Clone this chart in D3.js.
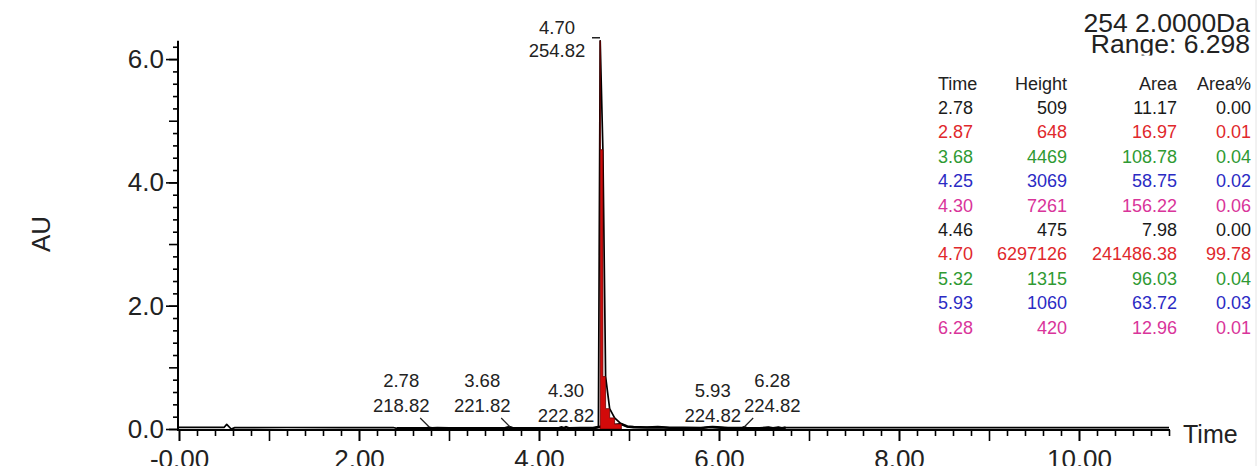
<!DOCTYPE html>
<html>
<head>
<meta charset="utf-8">
<script src="https://cdn.jsdelivr.net/npm/d3@7/dist/d3.min.js"></script>
<style>
  body { margin: 0; background: #fff; }
  svg { display: block; font-family: 'Liberation Sans', Arial, sans-serif; }
</style>
</head>
<body>
<div id="chart"></div>
<script>
// chromatogram trace (min, AU)
var traceTime = [0.00, 0.50, 0.53, 0.58, 0.62, 1.20, 1.80, 2.38, 2.42, 2.60, 2.75, 2.78, 2.81, 2.87, 3.00,
  3.20, 3.40, 3.62, 3.65, 3.68, 3.71, 3.90, 4.10, 4.22, 4.25, 4.28, 4.30, 4.33, 4.46, 4.60, 4.66,
  4.68, 4.71, 4.74, 4.785, 4.84, 4.915, 4.98, 5.05, 5.20, 5.32, 5.45, 5.60, 5.80, 5.88, 5.93, 5.98,
  6.10, 6.25, 6.28, 6.31, 6.45, 6.55, 6.60, 6.66, 6.70, 6.74, 7.50, 8.50, 9.50, 10.50, 11.00];
var traceAU = [0.025, 0.025, 0.075, 0.0, 0.022, 0.024, 0.022, 0.024, 0.010, 0.012, 0.010, 0.018, 0.010, 0.016, 0.010,
  0.012, 0.010, 0.012, 0.022, 0.026, 0.012, 0.010, 0.012, 0.012, 0.025, 0.014, 0.028, 0.012, 0.016, 0.014, 0.030,
  6.297, 4.53, 0.85, 0.33, 0.18, 0.08, 0.04, 0.030, 0.025, 0.030, 0.020, 0.018, 0.016, 0.028, 0.030, 0.026,
  0.014, 0.014, 0.026, 0.012, 0.012, 0.022, 0.012, 0.024, 0.012, 0.022, 0.022, 0.021, 0.022, 0.021, 0.021];

// integrated main peak window
var integStart = 4.68, integEnd = 4.915;

// labelled peaks
var peakTime = [2.78, 3.68, 4.30, 4.70, 5.93, 6.28];
var peakMass = ['218.82', '221.82', '222.82', '254.82', '224.82', '224.82'];

// peak table
var tableTime = ['2.78', '2.87', '3.68', '4.25', '4.30', '4.46', '4.70', '5.32', '5.93', '6.28'];
var tableHeight = ['509', '648', '4469', '3069', '7261', '475', '6297126', '1315', '1060', '420'];
var tableArea = ['11.17', '16.97', '108.78', '58.75', '156.22', '7.98', '241486.38', '96.03', '63.72', '12.96'];
var tableAreaPct = ['0.00', '0.01', '0.04', '0.02', '0.06', '0.00', '99.78', '0.04', '0.03', '0.01'];

var xTickValues = [0, 2, 4, 6, 8, 10];
var xTickLabels = ['-0.00', '2.00', '4.00', '6.00', '8.00', '10.00'];
var yTickValues = [0, 2, 4, 6];
var yTickLabels = ['0.0', '2.0', '4.0', '6.0'];

var titleLines = ['254 2.0000Da', 'Range: 6.298'];

var width = 1260, height = 466;
var rowColors = ['#1a1a1a', '#e0282c', '#2f9a33', '#2b2bc4', '#d9349a'];

var svg = d3.select('#chart').append('svg')
  .attr('width', width)
  .attr('height', height);

svg.append('rect').attr('width', width).attr('height', height).attr('fill', '#fff');

var x = d3.scaleLinear().domain([0, 11]).range([179, 1169]);
var y = d3.scaleLinear().domain([0, 6.298]).range([429, 40.7]);

var points = traceTime.map(function(t, i) { return { t: t, v: traceAU[i] }; });

// trace line
var line = d3.line()
  .x(function(d) { return x(d.t); })
  .y(function(d) { return y(d.v); });

svg.append('path')
  .datum(points)
  .attr('d', line)
  .attr('fill', 'none')
  .attr('stroke', '#000')
  .attr('stroke-width', 1.7)
  .attr('stroke-linejoin', 'round');

// noisier stretch around the peaks reads as a heavier line
svg.append('path')
  .datum(points.filter(function(d) { return d.t >= 2.42 && d.t <= 6.74 && d.v < 0.1; }))
  .attr('d', line)
  .attr('fill', 'none')
  .attr('stroke', '#000')
  .attr('stroke-width', 2.6);

// integrated area (stepped, as the data system draws it)
var area = d3.area()
  .curve(d3.curveStepBefore)
  .x(function(d) { return x(d.t); })
  .y0(y(0))
  .y1(function(d) { return y(d.v); });

svg.append('path')
  .datum(points.filter(function(d) { return d.t >= integStart && d.t <= integEnd; }))
  .attr('d', area)
  .attr('fill', '#d20a0a')
  .attr('stroke', '#6a0000')
  .attr('stroke-width', 0.8);

// x axis
var minorX = d3.range(0, 55.5).map(function(i) { return i * 0.2; });
var xMinor = svg.append('g')
  .attr('transform', 'translate(0,430)')
  .call(d3.axisBottom(x).tickValues(minorX).tickSize(6).tickSizeOuter(0).tickFormat(''));
xMinor.select('.domain').attr('stroke-width', 2).attr('d', 'M178,0H1170');
xMinor.selectAll('.tick line')
  .attr('stroke-width', 1.6)
  .attr('y2', function(d) { return Math.abs(d - Math.round(d)) < 1e-6 && d < 10.9 ? 11 : 6; });

var xMajor = svg.append('g')
  .attr('transform', 'translate(0,430)')
  .call(d3.axisBottom(x).tickValues(xTickValues).tickSize(11).tickPadding(9)
    .tickFormat(function(d, i) { return xTickLabels[i]; }));
xMajor.select('.domain').remove();
xMajor.selectAll('.tick line').attr('stroke-width', 1.6);
xMajor.selectAll('text').attr('font-size', 26).attr('fill', '#222').attr('font-family', null);

svg.append('text')
  .attr('x', 1183)
  .attr('y', 443)
  .attr('font-size', 25)
  .attr('fill', '#222')
  .text('Time');

// y axis
var minorY = d3.range(0, 31.5).map(function(i) { return i * 0.2; });
var yMinor = svg.append('g')
  .attr('transform', 'translate(178,0)')
  .call(d3.axisLeft(y).tickValues(minorY).tickSize(5).tickSizeOuter(0).tickFormat(''));
yMinor.select('.domain').attr('stroke-width', 2).attr('d', 'M0,431V40.7');
yMinor.selectAll('.tick line')
  .attr('stroke-width', 1.6)
  .attr('x2', function(d) { return Math.abs(d - Math.round(d)) < 1e-6 ? -9 : -5; });

var yMajor = svg.append('g')
  .attr('transform', 'translate(178,0)')
  .call(d3.axisLeft(y).tickValues(yTickValues).tickSize(12).tickPadding(2)
    .tickFormat(function(d, i) { return yTickLabels[i]; }));
yMajor.select('.domain').remove();
yMajor.selectAll('.tick line').attr('stroke-width', 1.6);
yMajor.selectAll('text').attr('font-size', 26).attr('fill', '#222').attr('font-family', null);

svg.append('text')
  .attr('transform', 'translate(50,234) rotate(-90)')
  .attr('text-anchor', 'middle')
  .attr('font-size', 26)
  .attr('fill', '#222')
  .text('AU');

// peak labels
var labelSide = [-1, -1, 0, 0, 0, 1];
var apex = d3.max(traceAU);
peakTime.forEach(function(t, i) {
  var px = x(t);
  var g = svg.append('g').attr('font-size', 18.5).attr('fill', '#222').attr('text-anchor', 'middle');
  if (t === 4.70) {
    var top = y(apex);
    g.append('text').attr('x', px - 45).attr('y', top - 7).text(t.toFixed(2));
    g.append('text').attr('x', px - 45).attr('y', top + 16).text(peakMass[i]);
    svg.append('line')
      .attr('x1', px - 10).attr('x2', px - 2)
      .attr('y1', top - 3).attr('y2', top - 3)
      .attr('stroke', '#222').attr('stroke-width', 1.5);
    return;
  }
  var s = labelSide[i];
  var lx = px + s * 28;
  var base = s === 0 ? 397 : 387;
  g.append('text').attr('x', lx).attr('y', base).text(t.toFixed(2));
  g.append('text').attr('x', lx).attr('y', base + 25).text(peakMass[i]);
  if (s !== 0) {
    svg.append('line')
      .attr('x1', px + s * 9).attr('y1', 418)
      .attr('x2', px).attr('y2', 427)
      .attr('stroke', '#222').attr('stroke-width', 1.2);
  }
});

// title (second line is clipped at its baseline, as in the original)
svg.append('clipPath').attr('id', 'titleClip')
  .append('rect').attr('x', 900).attr('y', 0).attr('width', 360).attr('height', 55.5);

svg.append('g')
  .attr('clip-path', 'url(#titleClip)')
  .selectAll('text.title')
  .data(titleLines)
  .enter()
  .append('text')
  .attr('class', 'title')
  .attr('x', 1250)
  .attr('y', function(d, i) { return 31.7 + i * 21.6; })
  .attr('text-anchor', 'end')
  .attr('font-size', 26.5)
  .attr('fill', '#222')
  .text(function(d) { return d; });

// table
var cols = [
  { head: 'Time', x: 938, anchor: 'start', vals: tableTime },
  { head: 'Height', x: 1067, anchor: 'end', vals: tableHeight },
  { head: 'Area', x: 1177, anchor: 'end', vals: tableArea },
  { head: 'Area%', x: 1251, anchor: 'end', vals: tableAreaPct }
];
var table = svg.append('g').attr('font-size', 18);
cols.forEach(function(c) {
  table.append('text')
    .attr('x', c.x).attr('y', 90)
    .attr('text-anchor', c.anchor)
    .attr('fill', '#222')
    .text(c.head);
  c.vals.forEach(function(v, r) {
    table.append('text')
      .attr('x', c.x).attr('y', 114 + r * 24.4)
      .attr('text-anchor', c.anchor)
      .attr('fill', rowColors[r % rowColors.length])
      .text(v);
  });
});

// faint frame edge on the right
svg.append('line')
  .attr('x1', 1256).attr('x2', 1256).attr('y1', 0).attr('y2', height)
  .attr('stroke', '#e4e4e4').attr('stroke-width', 1);
</script>
</body>
</html>
